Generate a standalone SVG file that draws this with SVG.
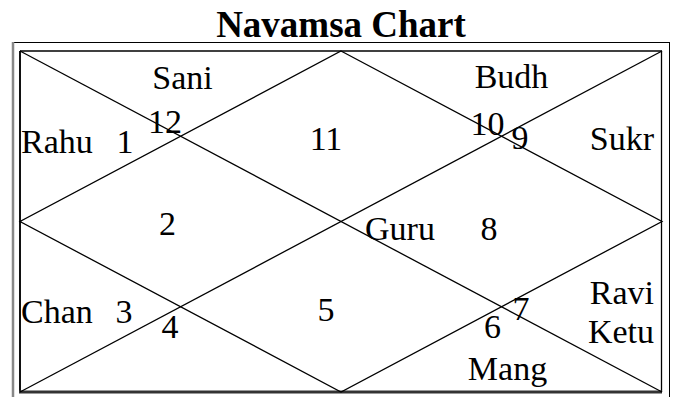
<svg xmlns="http://www.w3.org/2000/svg" width="679" height="397" viewBox="0 0 679 397">
<style>
.t{font-family:"Liberation Serif","Times New Roman",serif;font-size:34px;fill:#000}
.m{text-anchor:middle}
.e{text-anchor:end}
.title{font-family:"Liberation Serif","Times New Roman",serif;font-size:37px;font-weight:bold;text-anchor:middle;fill:#000}
.ln{stroke:#000;stroke-width:1.3;fill:none}
</style>
<rect width="679" height="397" fill="#fff"/>
<text class="title" x="341" y="37">Navamsa Chart</text>
<g id="frame">
<line x1="12" y1="42.5" x2="670" y2="42.5" stroke="#000" stroke-width="1"/>
<line x1="13" y1="42" x2="13" y2="397" stroke="#888" stroke-width="2.5"/>
<line x1="669.5" y1="42" x2="669.5" y2="397" stroke="#000" stroke-width="1"/>
<line x1="20" y1="51" x2="662" y2="51" class="ln"/>
<line x1="661.5" y1="51" x2="661.5" y2="392" class="ln"/>
<line x1="20" y1="51" x2="20" y2="393" stroke="#111" stroke-width="2"/>
<line x1="19" y1="392" x2="662" y2="392" stroke="#333" stroke-width="3"/>
</g>
<g id="connectors">
<line class="ln" x1="20" y1="51" x2="662" y2="392"/>
<line class="ln" x1="662" y1="51" x2="20" y2="392"/>
<polygon class="ln" points="341,51 662,221.5 341,392 20,221.5"/>
</g>
<g id="house1"><text class="t" x="21" y="153">Rahu</text><text class="t m" x="125" y="153">1</text></g>
<g id="house12"><text class="t m" x="182.5" y="89">Sani</text><text class="t m" x="165" y="133">12</text></g>
<g id="house11"><text class="t m" x="326" y="150">11</text></g>
<g id="house10"><text class="t m" x="511.5" y="88">Budh</text><text class="t m" x="487.5" y="135">10</text></g>
<g id="house9"><text class="t m" x="520" y="149">9</text><text class="t e" x="654" y="150">Sukr</text></g>
<g id="house2"><text class="t m" x="167.5" y="235">2</text></g>
<g id="house8"><text class="t m" x="400" y="240">Guru</text><text class="t m" x="489" y="240">8</text></g>
<g id="house3"><text class="t" x="21" y="323">Chan</text><text class="t m" x="124" y="323">3</text></g>
<g id="house4"><text class="t m" x="170" y="338">4</text></g>
<g id="house5"><text class="t m" x="326" y="321">5</text></g>
<g id="house7"><text class="t m" x="521" y="320">7</text><text class="t e" x="654" y="304">Ravi</text><text class="t e" x="654" y="343">Ketu</text></g>
<g id="house6"><text class="t m" x="492.5" y="338">6</text><text class="t m" x="507.5" y="380">Mang</text></g>
</svg>
